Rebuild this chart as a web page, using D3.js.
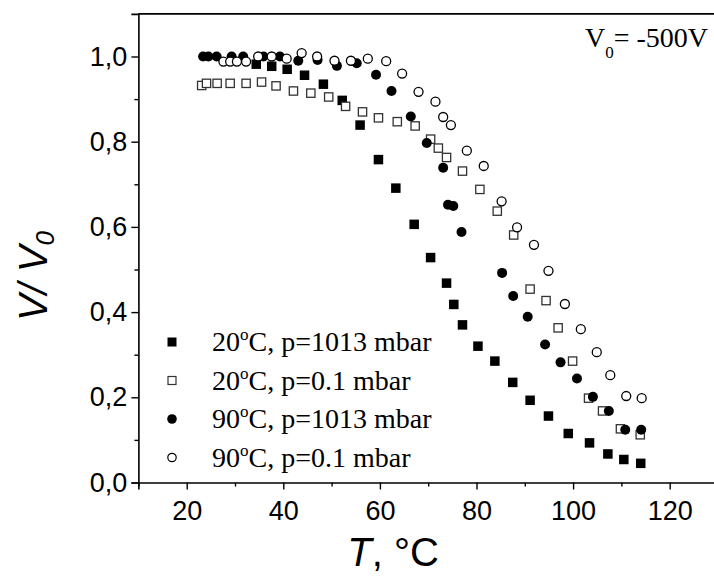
<!DOCTYPE html>
<html>
<head>
<meta charset="utf-8">
<script src="https://cdn.jsdelivr.net/npm/d3@7"></script>
<style>
  html, body { margin: 0; padding: 0; background: #fff; }
  svg { display: block; }
  .axis path, .axis line { stroke: #000; }
  .axis text { font-family: "Liberation Sans", Arial, sans-serif; font-size: 27px; fill: #000; }
</style>
</head>
<body>
<div id="chart"></div>
<script>
// T (°C) and V/V0

// 20°C, p=1013 mbar (filled squares)
const sqFilledT = [34.4, 37.6, 40.8, 44.4, 48.3, 52.2, 55.9, 59.7, 63.3, 67.1, 70.5, 73.8, 75.3, 77.1,
  80.3, 83.8, 87.5, 91.1, 94.9, 99.0, 103.4, 107.2, 110.5, 114.0];
const sqFilledV = [0.982, 0.977, 0.970, 0.956, 0.935, 0.897, 0.839, 0.758, 0.691, 0.606, 0.528, 0.468, 0.418, 0.370,
  0.320, 0.285, 0.235, 0.193, 0.156, 0.115, 0.093, 0.067, 0.054, 0.045];

// 20°C, p=0.1 mbar (open squares)
const sqOpenT = [23.1, 24.1, 26.3, 29.0, 32.3, 35.5, 38.5, 42.1, 45.7, 49.4, 52.9, 56.4, 59.7, 63.6, 67.3,
  70.5, 72.1, 73.8, 77.1, 80.7, 84.3, 87.7, 91.1, 94.4, 96.9, 99.9, 103.2, 106.1, 109.8, 113.9];
const sqOpenV = [0.932, 0.937, 0.937, 0.937, 0.937, 0.940, 0.931, 0.919, 0.914, 0.905, 0.883, 0.870, 0.856, 0.847, 0.837,
  0.806, 0.785, 0.763, 0.731, 0.688, 0.637, 0.581, 0.454, 0.427, 0.363, 0.285, 0.198, 0.168, 0.126, 0.112];

// 90°C, p=1013 mbar (filled circles)
const ciFilledT = [23.4, 24.5, 26.2, 29.3, 31.7, 35.9, 39.3, 43.1, 47.1, 51.1, 55.2, 59.2, 62.4, 66.4, 69.7,
  73.1, 74.1, 75.2, 76.9, 85.3, 87.6, 90.6, 94.2, 97.4, 100.8, 104.1, 107.4, 110.8, 114.1];
const ciFilledV = [1.0, 1.0, 1.0, 1.0, 1.0, 1.0, 1.0, 0.990, 0.992, 0.978, 0.984, 0.957, 0.919, 0.859, 0.797,
  0.739, 0.652, 0.649, 0.588, 0.492, 0.438, 0.389, 0.324, 0.282, 0.244, 0.201, 0.168, 0.124, 0.124];

// 90°C, p=0.1 mbar (open circles)
const ciOpenT = [27.6, 29.0, 30.4, 32.3, 34.8, 37.6, 40.7, 43.8, 47.0, 50.6, 54.0, 57.5, 61.3, 64.6, 68.0,
  71.5, 73.1, 74.7, 78.0, 81.5, 85.2, 88.4, 91.9, 94.9, 98.3, 101.6, 104.9, 107.7, 111.0, 114.2];
const ciOpenV = [0.988, 0.988, 0.988, 0.988, 1.0, 1.0, 0.995, 1.008, 1.0, 0.990, 0.990, 0.995, 0.989, 0.960, 0.917,
  0.894, 0.858, 0.839, 0.779, 0.743, 0.660, 0.599, 0.558, 0.497, 0.419, 0.360, 0.306, 0.252, 0.203, 0.198];

const legendLabels = ['20', '20', '90', '90'];
const legendRest = ['C, p=1013 mbar', 'C, p=0.1 mbar', 'C, p=1013 mbar', 'C, p=0.1 mbar'];

const xMajor = [20, 40, 60, 80, 100, 120];
const xMinor = [10, 30, 50, 70, 90, 110, 130];
const yMajor = [0, 0.2, 0.4, 0.6, 0.8, 1.0];
const yMinor = [0.1, 0.3, 0.5, 0.7, 0.9];

const W = 714, H = 578;
const svg = d3.select('#chart').append('svg').attr('width', W).attr('height', H);

const x = d3.scaleLinear().domain([10, 130]).range([138.4, 718]);
const y = d3.scaleLinear().domain([0, 1.1]).range([482.5, 13.9]);
const fmt = d => d3.format('.1f')(d).replace('.', ',');

// axes
const xAx = svg.append('g').attr('class', 'axis').attr('transform', `translate(0,${y(0)})`)
  .call(d3.axisBottom(x).tickValues(xMajor).tickSize(7).tickPadding(6).tickFormat(d3.format('d')));
svg.append('g').attr('class', 'axis').attr('transform', `translate(0,${y(0)})`)
  .call(d3.axisBottom(x).tickValues(xMinor).tickSize(4).tickFormat(''))
  .select('.domain').remove();
const yAx = svg.append('g').attr('class', 'axis').attr('transform', `translate(${x(10)},0)`)
  .call(d3.axisLeft(y).tickValues(yMajor).tickSize(7).tickPadding(4).tickFormat(fmt));
svg.append('g').attr('class', 'axis').attr('transform', `translate(${x(10)},0)`)
  .call(d3.axisLeft(y).tickValues(yMinor).tickSize(4).tickFormat(''))
  .select('.domain').remove();
svg.selectAll('.axis .domain').attr('stroke-width', 1.6);
svg.selectAll('.axis line').attr('stroke-width', 1.4);
xAx.selectAll('text').attr('dy', '0.9em');

// top frame line
svg.append('line')
  .attr('x1', x(10)).attr('x2', x(130)).attr('y1', y(1.1)).attr('y2', y(1.1))
  .attr('stroke', '#000').attr('stroke-width', 1.6);

// markers
const g = svg.append('g');
function squares(ts, vs, filled, size) {
  g.append('g').selectAll('rect').data(ts).join('rect')
    .attr('x', (d) => x(d) - size / 2)
    .attr('y', (d, i) => y(vs[i]) - size / 2)
    .attr('width', size).attr('height', size)
    .attr('fill', filled ? '#000' : '#fff')
    .attr('stroke', filled ? 'none' : '#333')
    .attr('stroke-width', 1.3);
}
function circles(ts, vs, filled, r) {
  g.append('g').selectAll('circle').data(ts).join('circle')
    .attr('cx', (d) => x(d))
    .attr('cy', (d, i) => y(vs[i]))
    .attr('r', r)
    .attr('fill', filled ? '#000' : '#fff')
    .attr('stroke', filled ? 'none' : '#000')
    .attr('stroke-width', 1.3);
}
squares(sqFilledT, sqFilledV, true, 9.5);
squares(sqOpenT, sqOpenV, false, 8.3);
circles(ciFilledT, ciFilledV, true, 5);
circles(ciOpenT, ciOpenV, false, 4.5);

// legend
const lg = svg.append('g');
const rowY = [342, 380.5, 419, 457.5];
const lx = 172;
lg.append('rect').attr('x', lx - 4.5).attr('y', rowY[0] - 4.5).attr('width', 9).attr('height', 9).attr('fill', '#000');
lg.append('rect').attr('x', lx - 4).attr('y', rowY[1] - 4).attr('width', 8).attr('height', 8)
  .attr('fill', '#fff').attr('stroke', '#333').attr('stroke-width', 1.2);
lg.append('circle').attr('cx', lx).attr('cy', rowY[2]).attr('r', 4.8).attr('fill', '#000');
lg.append('circle').attr('cx', lx).attr('cy', rowY[3]).attr('r', 4.2)
  .attr('fill', '#fff').attr('stroke', '#000').attr('stroke-width', 1.2);

legendLabels.forEach((lab, i) => {
  const t = lg.append('text')
    .attr('x', 212).attr('y', rowY[i] + 9)
    .attr('font-family', '"Liberation Serif", "Times New Roman", serif')
    .attr('font-size', 28).attr('fill', '#000');
  t.append('tspan').text(lab);
  t.append('tspan').attr('font-size', 17).attr('dy', -11).text('o');
  t.append('tspan').attr('dy', 11).text(legendRest[i]);
});

// V0 annotation
const ann = svg.append('text')
  .attr('x', 585).attr('y', 47)
  .attr('font-family', '"Liberation Serif", "Times New Roman", serif')
  .attr('font-size', 28).attr('fill', '#000');
ann.append('tspan').text('V');
ann.append('tspan').attr('font-size', 17).attr('dy', 11).text('0');
ann.append('tspan').attr('dy', -11).text('= -500V');

// axis labels
const xl = svg.append('text')
  .attr('x', 393).attr('y', 566).attr('text-anchor', 'middle')
  .attr('font-family', '"Liberation Sans", Arial, sans-serif')
  .attr('font-size', 40).attr('fill', '#000');
xl.append('tspan').attr('font-style', 'italic').text('T');
xl.append('tspan').text(', °C');

const yl = svg.append('text')
  .attr('transform', 'translate(47,276) rotate(-90)')
  .attr('text-anchor', 'middle')
  .attr('font-family', '"Liberation Sans", Arial, sans-serif')
  .attr('font-size', 40).attr('font-style', 'italic').attr('fill', '#000');
yl.append('tspan').text('V/ V');
yl.append('tspan').attr('font-size', 26).attr('dy', 7).text('0');
</script>
</body>
</html>
